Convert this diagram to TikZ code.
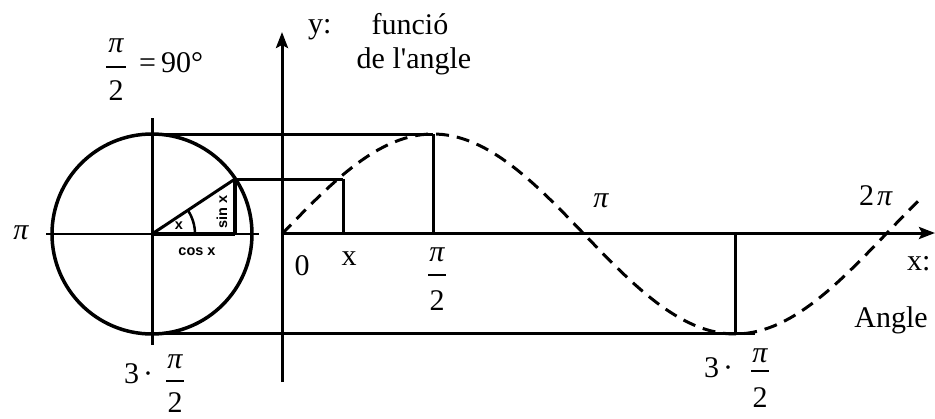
\documentclass[tikz,border=0pt]{standalone}
\usepackage{fontspec}
\setmainfont{Liberation Serif}
\newfontfamily\smallsans{Liberation Sans}
\font\aposfont="Liberation Serif" at 30pt
\newcommand\straightapos{{\aposfont\char"27}}
\usetikzlibrary{arrows.meta}
\tikzset{
  lbl/.style={inner sep=0pt, font=\fontsize{30}{36}\selectfont},
  pil/.style={inner sep=0pt, font=\fontsize{30}{36}\selectfont\itshape},
  sml/.style={inner sep=0pt, font=\fontsize{14.5}{16}\selectfont\smallsans\bfseries},
  ln/.style={line width=3pt},
  bar/.style={line width=1.4pt},
  axis/.style={line width=3pt, -{Stealth[length=16pt,width=12pt,inset=3pt]}},
  curve/.style={line width=3pt, dash pattern=on 13pt off 8pt}
}
\begin{document}
\begin{tikzpicture}[x=1pt,y=-1pt]
\useasboundingbox (0,0) rectangle (935,418);
% key points
\coordinate (O) at (152,234);
\coordinate (cl) at (46,234);
\coordinate (cr) at (259,234);
\coordinate (ct) at (152,118);
\coordinate (cb) at (152,345);
\coordinate (top) at (152,134);
\coordinate (bot) at (152,333);
\coordinate (P) at (235,179);
\coordinate (Pc) at (235,234);
\coordinate (ya) at (282,382);
\coordinate (yb) at (282,32);
\coordinate (xa) at (282,233);
\coordinate (xb) at (935,233);
\coordinate (sx) at (343,179);
\coordinate (sxb) at (343,234);
\coordinate (hp) at (433,134);
\coordinate (hpb) at (433,234);
\coordinate (tp) at (735,333);
\coordinate (tpb) at (735,234);
\coordinate (be) at (755,333);
\coordinate (ae) at (195,234);
% circle and its axes
\draw[line width=3.5pt] (O) circle[radius=100pt];
\draw[line width=2.5pt] (cl) -- (cr);
\draw[ln] (ct) -- (cb);
\draw[ln] (O) -- (P);
\draw[line width=4.5pt] (O) -- (Pc);
\draw[line width=3.5pt] (P) -- (Pc);
\draw[line width=2.5pt] (ae) arc[start angle=0, end angle=33.5, radius=43pt];
% projection lines
\draw[ln] (top) -- (hp);
\draw[ln] (P) -- (sx);
\draw[ln] (sx) -- (sxb);
\draw[ln] (hp) -- (hpb);
\draw[ln] (bot) -- (be);
\draw[ln] (tpb) -- (tp);
% axes
\draw[axis] (ya) -- (yb);
\draw[axis] (xa) -- (xb);
% sine curve
\draw[curve, domain=282:918, samples=120] plot (\x,{234-100*sin((\x-282)/151*90)});
% small labels in the circle
\node[sml] (cosx) at (197,252) {cos x};
\node[sml, rotate=90] (sinx) at (222,212) {sin x};
\node[sml] (ang) at (179,226) {x};
% left labels
\node[pil] (pinum1) at (116,45.5) {π};
\draw[bar] (106,67) -- (126,67);
\node[lbl, anchor=base] (den1) at (116,100) {2};
\node[lbl, anchor=base west] (ninety) at (139,72) {=\kern5pt90°};
\node[pil] (leftpi) at (21,233) {π};
\node[lbl, anchor=base west] (three1) at (124,383) {3\kern4pt·};
\node[pil] (pinum2) at (175,362) {π};
\draw[bar] (166,381) -- (184,381);
\node[lbl, anchor=base] (den2) at (175,412) {2};
% graph labels
\node[lbl, anchor=base west] (ylab) at (308,33) {y:};
\node[lbl, anchor=base] (func) at (410,34) {funció};
\node[lbl, anchor=base] (angl) at (414,68) {de l\straightapos angle};
\node[lbl, anchor=base] (zero) at (302,275) {0};
\node[lbl, anchor=base] (xl) at (349,265) {x};
\node[pil] (pinum4) at (437,255) {π};
\draw[bar] (428,275) -- (446,275);
\node[lbl, anchor=base] (den4) at (437,310) {2};
\node[pil] (midpi) at (601,201) {π};
\node[lbl, anchor=base west] (twopi) at (859,205) {2\kern3pt\itshape π};
\node[lbl, anchor=base west] (xcol) at (907,270) {x:};
\node[lbl, anchor=base] (anglelab) at (891,327) {Angle};
\node[lbl, anchor=base west] (three2) at (704,377) {3\kern4pt·};
\node[pil] (pinum3) at (760,356) {π};
\draw[bar] (751,371) -- (769,371);
\node[lbl, anchor=base] (den3) at (760,407) {2};
\end{tikzpicture}
\end{document}
